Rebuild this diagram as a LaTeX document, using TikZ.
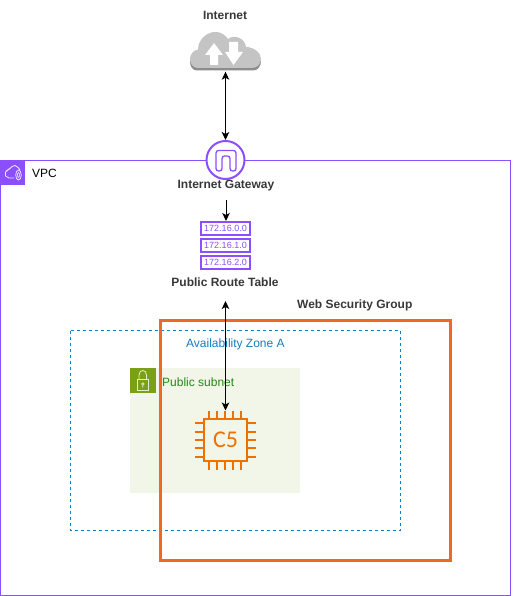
\documentclass[tikz,border=0pt]{standalone}
\usepackage{fontspec}
\setmainfont{Liberation Sans}
\newfontfamily\chipfont{Carlito}
\usetikzlibrary{arrows.meta}
\definecolor{vpcpurple}{HTML}{8C4FFF}
\definecolor{chiporange}{HTML}{ED7100}
\definecolor{sgorange}{HTML}{EE6A22}
\definecolor{azblue}{HTML}{147EBA}
\definecolor{subnetgreen}{HTML}{7AA116}
\definecolor{subnetfill}{HTML}{F2F6E8}
\definecolor{subnettext}{HTML}{248814}
\tikzset{
    x=1pt, y=-1pt,
    link/.style={{Stealth[length=8pt,width=7.5pt,inset=2pt]}-{Stealth[length=8pt,width=7.5pt,inset=2pt]}, line width=1pt, black},
    linkone/.style={-{Stealth[length=8pt,width=7.5pt,inset=2pt]}, line width=1pt, black},
    caption/.style={font=\fontsize{12}{14}\selectfont\bfseries, text=black!78, inner sep=0pt},
    plainlabel/.style={font=\fontsize{12}{14}\selectfont, inner sep=0pt, anchor=west},
    routerow/.style={draw=vpcpurple, line width=2pt, fill=white, text=vpcpurple, minimum width=49, minimum height=13, inner sep=0pt, font=\fontsize{9}{10}\selectfont},
    pin/.style={chiporange, line width=2.6pt},
    hole/.style={inner sep=0pt, minimum width=0pt, minimum height=0pt}
}
\begin{document}
\begin{tikzpicture}
    \useasboundingbox (0,0) rectangle (512,596);

    % vpc
    \draw[vpcpurple, line width=1pt] (0.5,160.5) rectangle (510.5,595);
    \fill[vpcpurple] (0,160) rectangle (25,185);
    \draw[white!85!vpcpurple, line width=0.8pt, rounded corners=2pt] (14,178) -- (7,178) -- (4.5,174) -- (7,170) -- (10,169) -- (13,165) -- (17,166) -- (20,170);
    \draw[white!85!vpcpurple, line width=0.8pt] (18.5,175) ellipse (2.8 and 5);
    \draw[white!85!vpcpurple, line width=0.6pt] (18.5,175) ellipse (1 and 2.5);
    \node[plainlabel] (vpclabel) at (32,173.5) {VPC};

    % zone and subnet
    \fill[subnetfill] (130,368) rectangle (300,492.5);
    \draw[azblue, line width=0.9pt, dash pattern=on 3pt off 3pt] (70.5,330.5) rectangle (400.5,530);
    \node[plainlabel, text=azblue] (azlabel) at (186,344.5) {Availability Zone A};
    \fill[subnetgreen] (130,368) rectangle (155.5,393);
    \draw[white!80!subnetgreen, line width=0.8pt] (137,379.5) rectangle (148.5,390);
    \draw[white!80!subnetgreen, line width=0.8pt] (139,379.5) -- (139,375) .. controls (139,369) and (146.5,369) .. (146.5,375) -- (146.5,379.5);
    \draw[white!80!subnetgreen, line width=0.7pt] (142.8,384) circle (1.3) (142.8,385.3) -- (142.8,387.5);
    \node[plainlabel, text=subnettext] (subnetlabel) at (162,382) {Public subnet};

    % security group
    \draw[sgorange, line width=3pt] (160.5,320.5) rectangle (450.5,560);
    \node[caption, anchor=west] (sglabel) at (297,305.5) {Web Security Group};

    % internet cloud
    \node[caption] (internetlabel) at (225,15) {Internet};
    \node[hole, minimum width=71, minimum height=40] (cloud) at (225.5,51.5) {};
    \fill[black!45] (197,70.5) .. controls (192,70.5) and (190,66) .. (190,61) -- (261,61) .. controls (261,66) and (258,70.5) .. (253,70.5) -- cycle;
    \fill[black!23] (198,68) .. controls (192.5,68) and (190,63) .. (190,59) .. controls (190,54) and (194,50) .. (198,49.5) .. controls (198,39) and (208,31) .. (217,32) .. controls (222,32.5) and (226,36) .. (228,39) .. controls (234,34) and (245,38) .. (246,47) .. controls (254,47) and (261,53) .. (261,59) .. controls (261,64) and (257,68) .. (252,68) -- cycle;
    \fill[white] (214,43) -- (205,55) -- (210,55) -- (210,65) -- (218,65) -- (218,55) -- (223,55) -- cycle;
    \fill[white] (233.5,65) -- (225,52) -- (229,52) -- (229,42) -- (238,42) -- (238,52) -- (243,52) -- cycle;

    % gateway
    \node[draw=vpcpurple, line width=2pt, fill=white, circle, minimum size=38, inner sep=0pt] (gateway) at (225.5,160) {};
    \draw[vpcpurple, line width=1.3pt, rounded corners=2.5pt] (216,171) -- (216,150.5) -- (236,150.5) -- (236,171) -- (230,171) -- (230,156) -- (222,156) -- (222,171) -- cycle;
    \node[caption] (gatewaylabel) at (226,186) {Internet Gateway};

    % route table
    \node[routerow] (rowa) at (225.5,228.5) {172.16.0.0};
    \node[routerow] (rowb) at (225.5,245.5) {172.16.1.0};
    \node[routerow] (rowc) at (225.5,262.5) {172.16.2.0};
    \node[caption] (routelabel) at (225,282) {Public Route Table};
    \coordinate (routeout) at (225.5,301);
    \coordinate (gatewayout) at (226,200);

    % instance
    \node[draw=chiporange, line width=2.6pt, fill=none, minimum width=43, minimum height=42, inner sep=0pt, text=chiporange, font=\fontsize{24}{26}\chipfont] (instance) at (225.5,440) {C5};
    \foreach \px in {209,217,225,233,241}
        \draw[pin] (\px,411) -- (\px,419) (\px,461) -- (\px,470);
    \foreach \py in {423,432,440,448,457}
        \draw[pin] (195,\py) -- (204,\py) (247,\py) -- (256,\py);
    \coordinate (instancein) at (225.5,410.5);

    % connectors
    \draw[link] (cloud.south) -- (gateway.north);
    \draw[linkone] (gatewayout) -- (rowa.north -| gatewayout);
    \draw[link] (routeout) -- (instancein);
\end{tikzpicture}
\end{document}
